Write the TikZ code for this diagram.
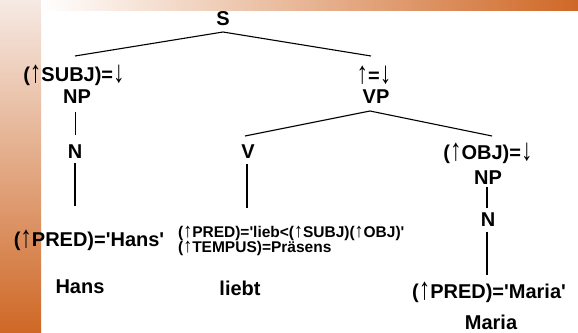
\documentclass[tikz,border=0pt]{standalone}
\usepackage{fontspec}
\usepackage{graphicx}
\newfontfamily\lsans{Liberation Sans}
\usetikzlibrary{calc}
\definecolor{slideorange}{RGB}{207,104,38}
\definecolor{slidepale}{RGB}{246,234,228}
\newcommand\uparr{\raisebox{-0.06em}{\scalebox{1.15}[1.55]{↑}}}
\newcommand\downarr{\raisebox{-0.06em}{\scalebox{1.15}[1.55]{↓}}}
\newcommand\uparrs{\scalebox{1.15}[1.3]{↑}}
\tikzset{
  lbl/.style={font=\lsans\bfseries\fontsize{20}{22}\selectfont, inner sep=0pt},
  small/.style={font=\lsans\bfseries\fontsize{15.5}{15.5}\selectfont, inner sep=0pt, anchor=west},
  edge/.style={line width=1.1pt, black}
}
\begin{document}
\begin{tikzpicture}[x=1pt,y=-1pt]
\useasboundingbox (0,0) rectangle (578,332);
\shade[top color=slidepale, bottom color=slideorange] (0,0) rectangle (41,332);
\shade[left color=white, right color=slideorange] (41,0) rectangle (578,10);

\node[lbl] (S) at (223,19) {S};
\node[lbl] (subj) at (74,75) {(\uparr SUBJ)=\downarr};
\node[lbl] (NPa) at (77,97) {NP};
\node[lbl] (vpann) at (374,75) {\uparr=\downarr};
\node[lbl] (VP) at (376,97) {VP};
\node[lbl] (Na) at (75,152) {N};
\node[lbl] (V) at (248,152) {V};
\node[lbl] (obj) at (488,153) {(\uparr OBJ)=\downarr};
\node[lbl] (NPb) at (488,178) {NP};
\node[lbl] (Nb) at (488,220) {N};
\node[lbl] (predH) at (89,240) {(\uparr PRED)='Hans'};
\node[small] (lieb) at (178,233) {(\uparrs PRED)='lieb<(\uparrs SUBJ)(\uparrs OBJ)'};
\node[small] (tempus) at (178,248.5) {(\uparrs TEMPUS)=Präsens};
\node[lbl] (hans) at (80,287) {Hans};
\node[lbl] (liebt) at (240,288) {liebt};
\node[lbl] (predM) at (489,292) {(\uparr PRED)='Maria'};
\node[lbl] (maria) at (491,322) {Maria};

\draw[edge] ($(subj)+(1,-19)$) -- ($(S)+(0,13)$) -- ($(vpann)+(-3,-19)$);
\draw[edge] ($(V)+(-3,-16)$) -- ($(VP)+(-6,14)$) -- ($(obj)+(4,-17)$);
\draw[edge] ($(NPa)+(-1.3,15)$) -- ($(Na)+(0.7,-17)$);
\draw[edge] ($(Na)+(0,11)$) -- ($(predH)+(-14,-34)$);
\draw[edge] ($(V)+(-1,12)$) -- ($(lieb.west)+(69,-25)$);
\draw[edge] ($(NPb)+(-1,9)$) -- ($(Nb)+(-1,-12)$);
\draw[edge] ($(Nb)+(-1,12)$) -- ($(predM)+(-2,-17)$);
\end{tikzpicture}
\end{document}
